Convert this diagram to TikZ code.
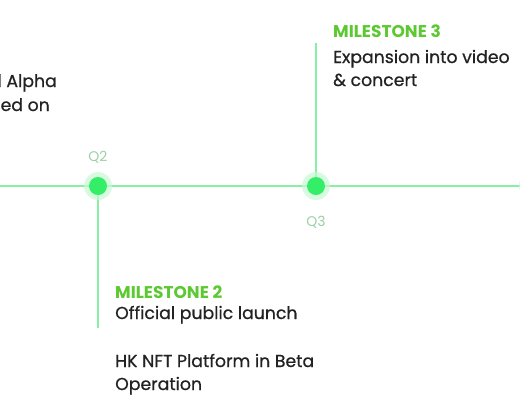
\documentclass[tikz,border=0pt]{standalone}
\usepackage{fontspec}
\setmainfont{Poppins}
\newfontfamily\medfont[FakeBold=0.7]{Poppins}
\newfontfamily\heavyfont[FakeBold=0.6]{Poppins Bold}
\definecolor{tline}{HTML}{86F0A4}
\definecolor{tdot}{HTML}{33EE66}
\definecolor{tglow}{HTML}{C8F8D4}
\definecolor{mgreen}{HTML}{5CC832}
\definecolor{qgrey}{HTML}{9CCFA4}
\definecolor{btext}{HTML}{222222}
\begin{document}
\begin{tikzpicture}[x=1pt,y=-1pt,
  ms/.style={anchor=base west,font=\fontsize{17}{19}\selectfont\bfseries,text=mgreen,inner sep=0pt},
  body/.style={anchor=base west,font=\medfont\fontsize{17.3}{23}\selectfont,text=btext,inner sep=0pt,align=left},
  qlab/.style={font=\fontsize{14}{16}\selectfont,text=qgrey,inner sep=0pt},
  tl/.style={draw=tline,line width=2pt}]
\useasboundingbox (0,0) rectangle (520,400);
\clip (0,0) rectangle (520,400);
\coordinate (L) at (-5,186);
\coordinate (R) at (530,186);
\coordinate (q2end) at (98,328);
\coordinate (q3end) at (316,43);
\draw[tl] (L) -- (R);
\draw[tl] (98,186) -- (q2end);
\draw[tl] (316,186) -- (q3end);
\foreach \n/\x in {d2/98,d3/316,d4/533}{
  \fill[tglow,opacity=0.7] (\x,186) circle (14);
  \node[circle,fill=tdot,minimum size=18pt,inner sep=0pt] (\n) at (\x,186) {};
}
\node[qlab] (q2) at (98,157) {Q2};
\node[qlab] (q3) at (316,222) {Q3};
\node[ms] (m3) at (333,37) {MILESTONE 3};
\node[body] (t3a) at (333,63) {Expansion into video};
\node[body] (t3b) at (333,86) {\&\ concert};
\node[ms] (m2) at (115,298) {MILESTONE 2};
\node[body] (t2a) at (115,319) {Official public launch};
\node[body] (t2b) at (115,367) {HK NFT Platform in Beta};
\node[body] (t2c) at (115,390) {Operation};
\node[body,anchor=base east] (t1a) at (57,87) {l Alpha};
\node[body,anchor=base east] (t1b) at (50,111) {ed on};
\end{tikzpicture}
\end{document}
